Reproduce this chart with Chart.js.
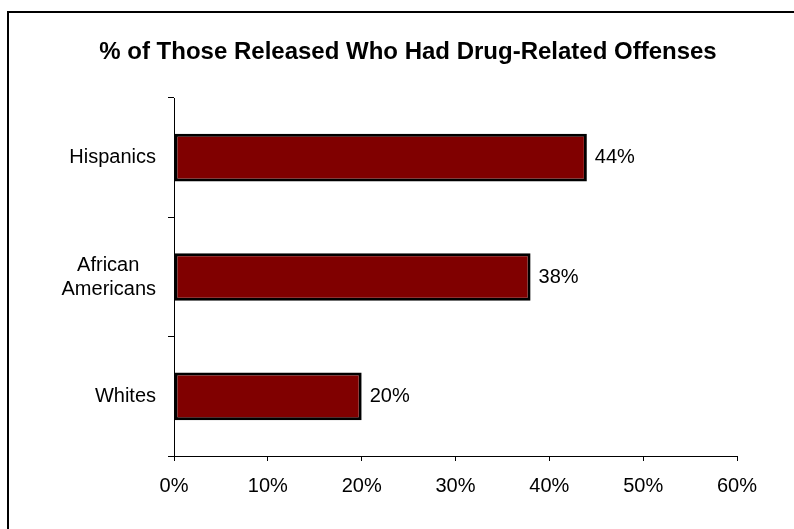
<!DOCTYPE html>
<html>
<head>
<meta charset="utf-8">
<script src="https://cdn.jsdelivr.net/npm/chart.js@4/dist/chart.umd.min.js"></script>
<style>
    body { margin: 0; width: 794px; height: 529px; overflow: hidden; background: #fff; position: relative; }
    #frame { position: absolute; left: 7px; top: 11px; width: 900px; height: 700px; border: 2px solid #000; }
    #wrap { position: absolute; left: 0; top: 0; width: 794px; height: 529px; }
</style>
</head>
<body>
<div id="frame"></div>
<div id="wrap"><canvas id="chart" width="794" height="529"></canvas></div>
<script>
// Datos del gráfico
const categories = ['Hispanics', ['African   ', 'Americans'], 'Whites'];
const percentValues = [44, 38, 20];
const tickValues = [0, 10, 20, 30, 40, 50, 60];

const chartTitle = '% of Those Released Who Had Drug-Related Offenses';
const fontFamily = 'Arial, "Liberation Sans", sans-serif';

// Etiquetas de valor a la derecha de cada barra
const valueLabels = {
    id: 'valueLabels',
    afterDatasetsDraw(chart) {
        const ctx = chart.ctx;
        const meta = chart.getDatasetMeta(0);
        ctx.save();
        ctx.font = '20px ' + fontFamily;
        ctx.fillStyle = '#000';
        ctx.textAlign = 'left';
        ctx.textBaseline = 'middle';
        meta.data.forEach((bar, i) => {
            ctx.fillText(percentValues[i] + '%', bar.x + 8, bar.y);
        });
        ctx.restore();
    }
};

// Título centrado sobre el marco (no sobre el lienzo)
const frameTitle = {
    id: 'frameTitle',
    afterDraw(chart) {
        const ctx = chart.ctx;
        ctx.save();
        ctx.font = 'bold 24px ' + fontFamily;
        ctx.fillStyle = '#000';
        ctx.textAlign = 'center';
        ctx.textBaseline = 'middle';
        ctx.fillText(chartTitle, 408, 52);
        ctx.restore();
    }
};

const ctx = document.getElementById('chart').getContext('2d');
new Chart(ctx, {
    type: 'bar',
    data: {
        labels: categories,
        datasets: [{
            data: percentValues,
            backgroundColor: '#800000',
            borderColor: '#000',
            borderWidth: 3,
            borderSkipped: false,
            barPercentage: 0.4,
            categoryPercentage: 1
        }]
    },
    options: {
        indexAxis: 'y',
        responsive: false,
        animation: false,
        layout: {
            padding: { left: 20, right: 57, top: 98, bottom: 0 }
        },
        plugins: {
            legend: { display: false },
            tooltip: { enabled: false },
            title: { display: false }
        },
        scales: {
            x: {
                min: 0,
                max: 60,
                afterBuildTicks: scale => {
                    scale.ticks = tickValues.map(v => ({ value: v }));
                },
                afterFit: scale => { scale.height = 73; },
                ticks: {
                    color: '#000',
                    font: { family: fontFamily, size: 20 },
                    padding: 13,
                    maxRotation: 0,
                    callback: v => v + '%'
                },
                grid: {
                    drawOnChartArea: false,
                    tickLength: 5,
                    color: '#000'
                },
                border: { display: true, color: '#000', width: 1 }
            },
            y: {
                afterFit: scale => { scale.width = 154; },
                ticks: {
                    color: '#000',
                    font: { family: fontFamily, size: 20 },
                    padding: 12,
                    crossAlign: 'near'
                },
                grid: {
                    offset: true,
                    drawOnChartArea: false,
                    tickLength: 6,
                    color: '#000'
                },
                border: { display: true, color: '#000', width: 1 }
            }
        }
    },
    plugins: [valueLabels, frameTitle]
});
</script>
</body>
</html>
